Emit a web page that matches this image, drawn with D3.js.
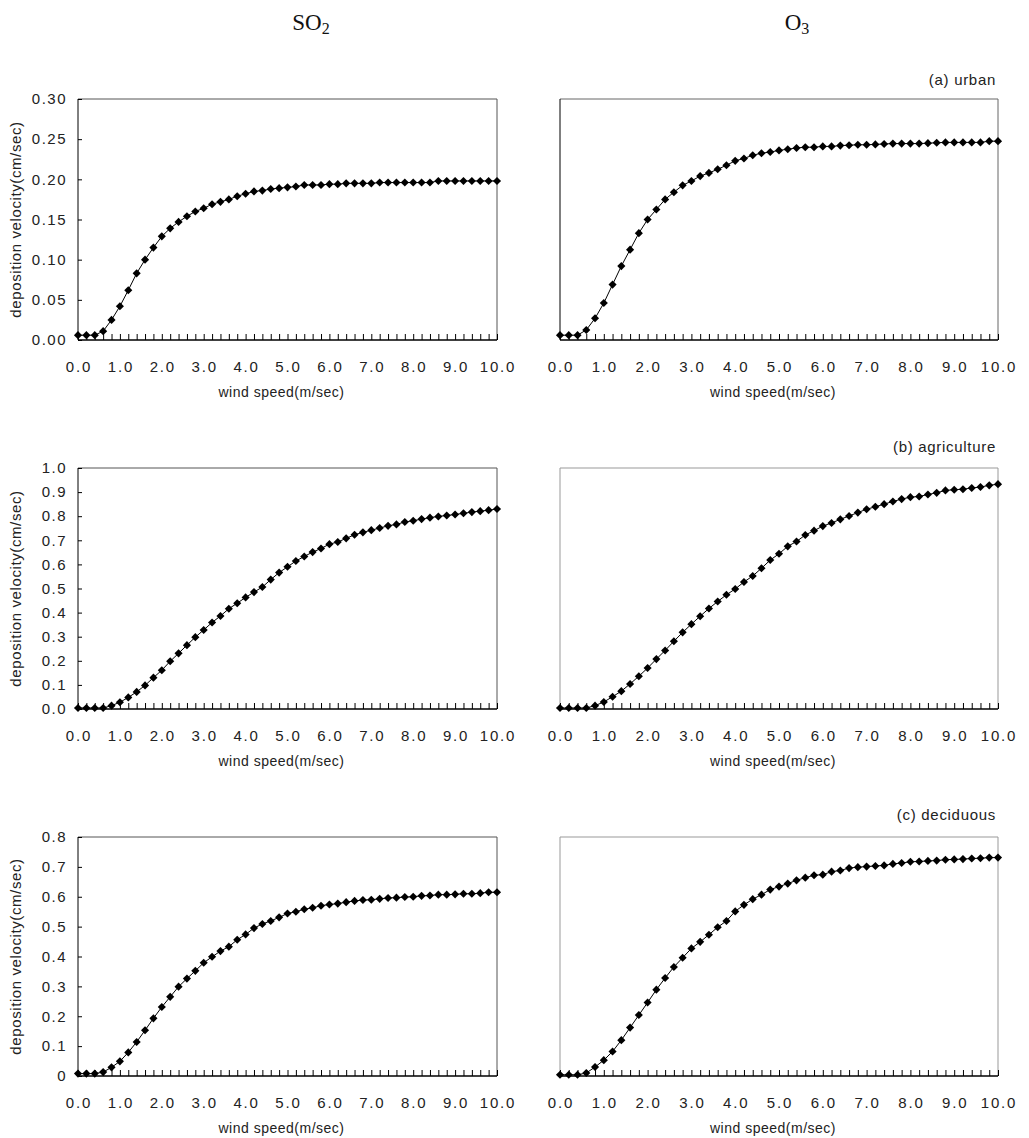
<!DOCTYPE html>
<html>
<head>
<meta charset="utf-8">
<script src="https://cdn.jsdelivr.net/npm/d3@7"></script>
<style>
  body { margin: 0; background: #fff; }
  svg { display: block; font-family: "Liberation Sans", Arial, sans-serif; }
</style>
</head>
<body>
<svg id="chart"></svg>
<script>
const windSpeed = [0.0, 0.2, 0.4, 0.6, 0.8, 1.0, 1.2, 1.4, 1.6, 1.8, 2.0, 2.2, 2.4, 2.6, 2.8, 3.0, 3.2, 3.4, 3.6, 3.8,
    4.0, 4.2, 4.4, 4.6, 4.8, 5.0, 5.2, 5.4, 5.6, 5.8, 6.0, 6.2, 6.4, 6.6, 6.8, 7.0, 7.2, 7.4, 7.6, 7.8,
    8.0, 8.2, 8.4, 8.6, 8.8, 9.0, 9.2, 9.4, 9.6, 9.8, 10.0]

const xTicks = [0, 1, 2, 3, 4, 5, 6, 7, 8, 9, 10]

const urbanSO2 = [0.006, 0.006, 0.006, 0.011, 0.025, 0.042, 0.062, 0.083, 0.100, 0.115, 0.129, 0.139, 0.147, 0.154, 0.160, 0.164, 0.169, 0.172, 0.175, 0.179,
    0.182, 0.185, 0.186, 0.188, 0.189, 0.190, 0.191, 0.193, 0.193, 0.193, 0.194, 0.194, 0.195, 0.195, 0.195, 0.195, 0.196, 0.196, 0.196, 0.196,
    0.196, 0.196, 0.196, 0.198, 0.198, 0.198, 0.198, 0.198, 0.198, 0.198, 0.198]
const urbanO3 = [0.006, 0.006, 0.006, 0.0125, 0.027, 0.046, 0.069, 0.092, 0.1125, 0.133, 0.150, 0.1625, 0.175, 0.184, 0.1925, 0.198, 0.204, 0.208, 0.2125, 0.2175,
    0.223, 0.226, 0.230, 0.2325, 0.234, 0.236, 0.2375, 0.239, 0.240, 0.240, 0.241, 0.241, 0.242, 0.2425, 0.243, 0.243, 0.2435, 0.244, 0.2445, 0.2445,
    0.2445, 0.2445, 0.245, 0.2455, 0.246, 0.246, 0.246, 0.246, 0.246, 0.2475, 0.2475]
const agriSO2 = [0.004, 0.004, 0.004, 0.004, 0.014, 0.028, 0.048, 0.071, 0.098, 0.130, 0.161, 0.198, 0.231, 0.265, 0.298, 0.328, 0.359, 0.386, 0.416, 0.439,
    0.463, 0.485, 0.506, 0.537, 0.566, 0.590, 0.614, 0.633, 0.651, 0.666, 0.684, 0.693, 0.708, 0.723, 0.733, 0.742, 0.751, 0.760, 0.766, 0.776,
    0.781, 0.788, 0.794, 0.799, 0.803, 0.807, 0.812, 0.817, 0.821, 0.825, 0.830]
const agriO3 = [0.004, 0.004, 0.004, 0.004, 0.014, 0.029, 0.051, 0.074, 0.104, 0.136, 0.170, 0.207, 0.243, 0.281, 0.318, 0.352, 0.385, 0.417, 0.446, 0.474,
    0.498, 0.527, 0.552, 0.584, 0.618, 0.644, 0.675, 0.695, 0.722, 0.740, 0.759, 0.772, 0.787, 0.801, 0.815, 0.829, 0.839, 0.850, 0.861, 0.871,
    0.879, 0.882, 0.890, 0.897, 0.907, 0.910, 0.912, 0.917, 0.921, 0.928, 0.933]
const decidSO2 = [0.008, 0.008, 0.008, 0.013, 0.029, 0.049, 0.079, 0.114, 0.153, 0.193, 0.231, 0.265, 0.299, 0.326, 0.352, 0.379, 0.399, 0.418, 0.433, 0.456,
    0.474, 0.495, 0.509, 0.519, 0.531, 0.544, 0.550, 0.558, 0.563, 0.570, 0.574, 0.577, 0.582, 0.586, 0.589, 0.590, 0.593, 0.596, 0.597, 0.599,
    0.600, 0.603, 0.604, 0.607, 0.607, 0.608, 0.610, 0.610, 0.612, 0.615, 0.615]
const decidO3 = [0.004, 0.004, 0.004, 0.010, 0.030, 0.053, 0.082, 0.120, 0.162, 0.204, 0.246, 0.289, 0.328, 0.365, 0.396, 0.427, 0.449, 0.473, 0.498, 0.519,
    0.551, 0.573, 0.592, 0.607, 0.624, 0.634, 0.644, 0.655, 0.664, 0.672, 0.674, 0.684, 0.688, 0.696, 0.699, 0.701, 0.703, 0.705, 0.710, 0.713,
    0.717, 0.718, 0.720, 0.721, 0.724, 0.725, 0.726, 0.728, 0.729, 0.731, 0.731]

const yTicksUrban = [0, 0.05, 0.10, 0.15, 0.20, 0.25, 0.30]
const yTicksAgri = [0, 0.1, 0.2, 0.3, 0.4, 0.5, 0.6, 0.7, 0.8, 0.9, 1.0]
const yTicksDecid = [0, 0.1, 0.2, 0.3, 0.4, 0.5, 0.6, 0.7, 0.8]

const rowLabels = ["(a) urban", "(b) agriculture", "(c) deciduous"]

const width = 1029, height = 1138

const rows = [
    { top: 99, bottom: 340, label: rowLabels[0], labelY: 85, yMax: 0.30, ticks: yTicksUrban, fmt: d3.format(".2f"), so2: urbanSO2, o3: urbanO3, o3Edge: "#000", frame: "#666" },
    { top: 468, bottom: 709, label: rowLabels[1], labelY: 452, yMax: 1.0, ticks: yTicksAgri, fmt: d3.format(".1f"), so2: agriSO2, o3: agriO3, o3Edge: "#999", frame: "#999" },
    { top: 837, bottom: 1076, label: rowLabels[2], labelY: 820, yMax: 0.8, ticks: yTicksDecid, fmt: d => d === 0 ? "0" : d3.format(".1f")(d), so2: decidSO2, o3: decidO3, o3Edge: "#999", frame: "#999" }
]

const cols = [
    { left: 78, right: 497, key: "so2", showY: true },
    { left: 560, right: 998, key: "o3", showY: false }
]

const svg = d3.select("#chart")
    .attr("width", width)
    .attr("height", height)
    .attr("viewBox", [0, 0, width, height])

// column titles
const titles = [{ x: 311, main: "SO", sub: "2" }, { x: 797, main: "O", sub: "3" }]
titles.forEach(t => {
    const txt = svg.append("text")
        .attr("x", t.x)
        .attr("y", 30)
        .attr("text-anchor", "middle")
        .attr("font-family", "'Liberation Serif', 'DejaVu Serif', serif")
        .attr("font-size", 23)
        .attr("fill", "#111")
    txt.append("tspan").text(t.main)
    txt.append("tspan").attr("font-size", 16).attr("dy", 4).text(t.sub)
})

const diamond = d3.symbol().type(d3.symbolDiamond2).size(42)

rows.forEach(row => {
    svg.append("text")
        .attr("x", 996)
        .attr("y", row.labelY)
        .attr("text-anchor", "end")
        .attr("font-size", 15)
        .attr("letter-spacing", 0.7)
        .attr("fill", "#222")
        .text(row.label)

    cols.forEach(col => {
        const values = row[col.key]
        const x = d3.scaleLinear().domain([0, 10]).range([col.left, col.right])
        const y = d3.scaleLinear().domain([0, row.yMax]).range([row.bottom, row.top])
        const g = svg.append("g")

        // frame: top and right
        g.append("path")
            .attr("d", `M${col.left},${row.top}H${col.right}V${row.bottom}`)
            .attr("fill", "none")
            .attr("stroke", col.showY ? "#555" : row.frame)
            .attr("stroke-width", 1)

        // left axis line
        g.append("line")
            .attr("x1", col.left).attr("x2", col.left)
            .attr("y1", row.top).attr("y2", row.bottom)
            .attr("stroke", col.showY ? "#000" : row.o3Edge)
            .attr("stroke-width", 1)

        if (col.showY) {
            const yAxis = d3.axisRight(y)
                .tickValues(row.ticks)
                .tickSize(4)
                .tickFormat("")
            g.append("g")
                .attr("transform", `translate(${col.left},0)`)
                .call(yAxis)
                .call(a => a.select(".domain").remove())
                .call(a => a.selectAll("line").attr("stroke", "#000"))

            g.append("g")
                .selectAll("text")
                .data(row.ticks)
                .join("text")
                .attr("x", col.left - 11)
                .attr("y", d => y(d))
                .attr("dy", "0.35em")
                .attr("text-anchor", "end")
                .attr("font-size", 15)
                .attr("letter-spacing", 1.5)
                .attr("fill", "#222")
                .text(row.fmt)

            g.append("text")
                .attr("transform", `translate(16,${(row.top + row.bottom) / 2}) rotate(-90)`)
                .attr("dy", "0.35em")
                .attr("text-anchor", "middle")
                .attr("font-size", 15)
                .attr("letter-spacing", 0.6)
                .attr("fill", "#222")
                .text("deposition velocity(cm/sec)")
        }

        // x axis with minor ticks at each data point
        const xAxis = d3.axisTop(x)
            .tickValues(windSpeed)
            .tickSize(6)
            .tickFormat("")
        g.append("g")
            .attr("transform", `translate(0,${row.bottom})`)
            .call(xAxis)
            .call(a => a.select(".domain").attr("d", `M${col.left},0H${col.right}`).attr("stroke", "#000").attr("stroke-width", 1.6))
            .call(a => a.selectAll("line").attr("stroke", "#000"))

        g.append("g")
            .selectAll("text")
            .data(xTicks)
            .join("text")
            .attr("x", d => x(d) + 1)
            .attr("y", row.bottom + 27)
            .attr("dy", "0.35em")
            .attr("text-anchor", "middle")
            .attr("font-size", 15)
            .attr("letter-spacing", 1.8)
            .attr("fill", "#222")
            .text(d => d3.format(".1f")(d))

        g.append("text")
            .attr("x", (col.left + col.right) / 2 - 6)
            .attr("y", row.bottom + 52)
            .attr("dy", "0.35em")
            .attr("text-anchor", "middle")
            .attr("font-size", 14)
            .attr("letter-spacing", 0.5)
            .attr("fill", "#222")
            .text("wind speed(m/sec)")

        const pts = windSpeed.map((w, i) => [w, values[i]])

        g.append("path")
            .datum(pts)
            .attr("fill", "none")
            .attr("stroke", "#000")
            .attr("stroke-width", 1)
            .attr("d", d3.line().x(d => x(d[0])).y(d => y(d[1])))

        g.append("g")
            .selectAll("path")
            .data(pts)
            .join("path")
            .attr("transform", d => `translate(${x(d[0])},${y(d[1])})`)
            .attr("d", diamond)
            .attr("fill", "#000")
    })
})
</script>
</body>
</html>
